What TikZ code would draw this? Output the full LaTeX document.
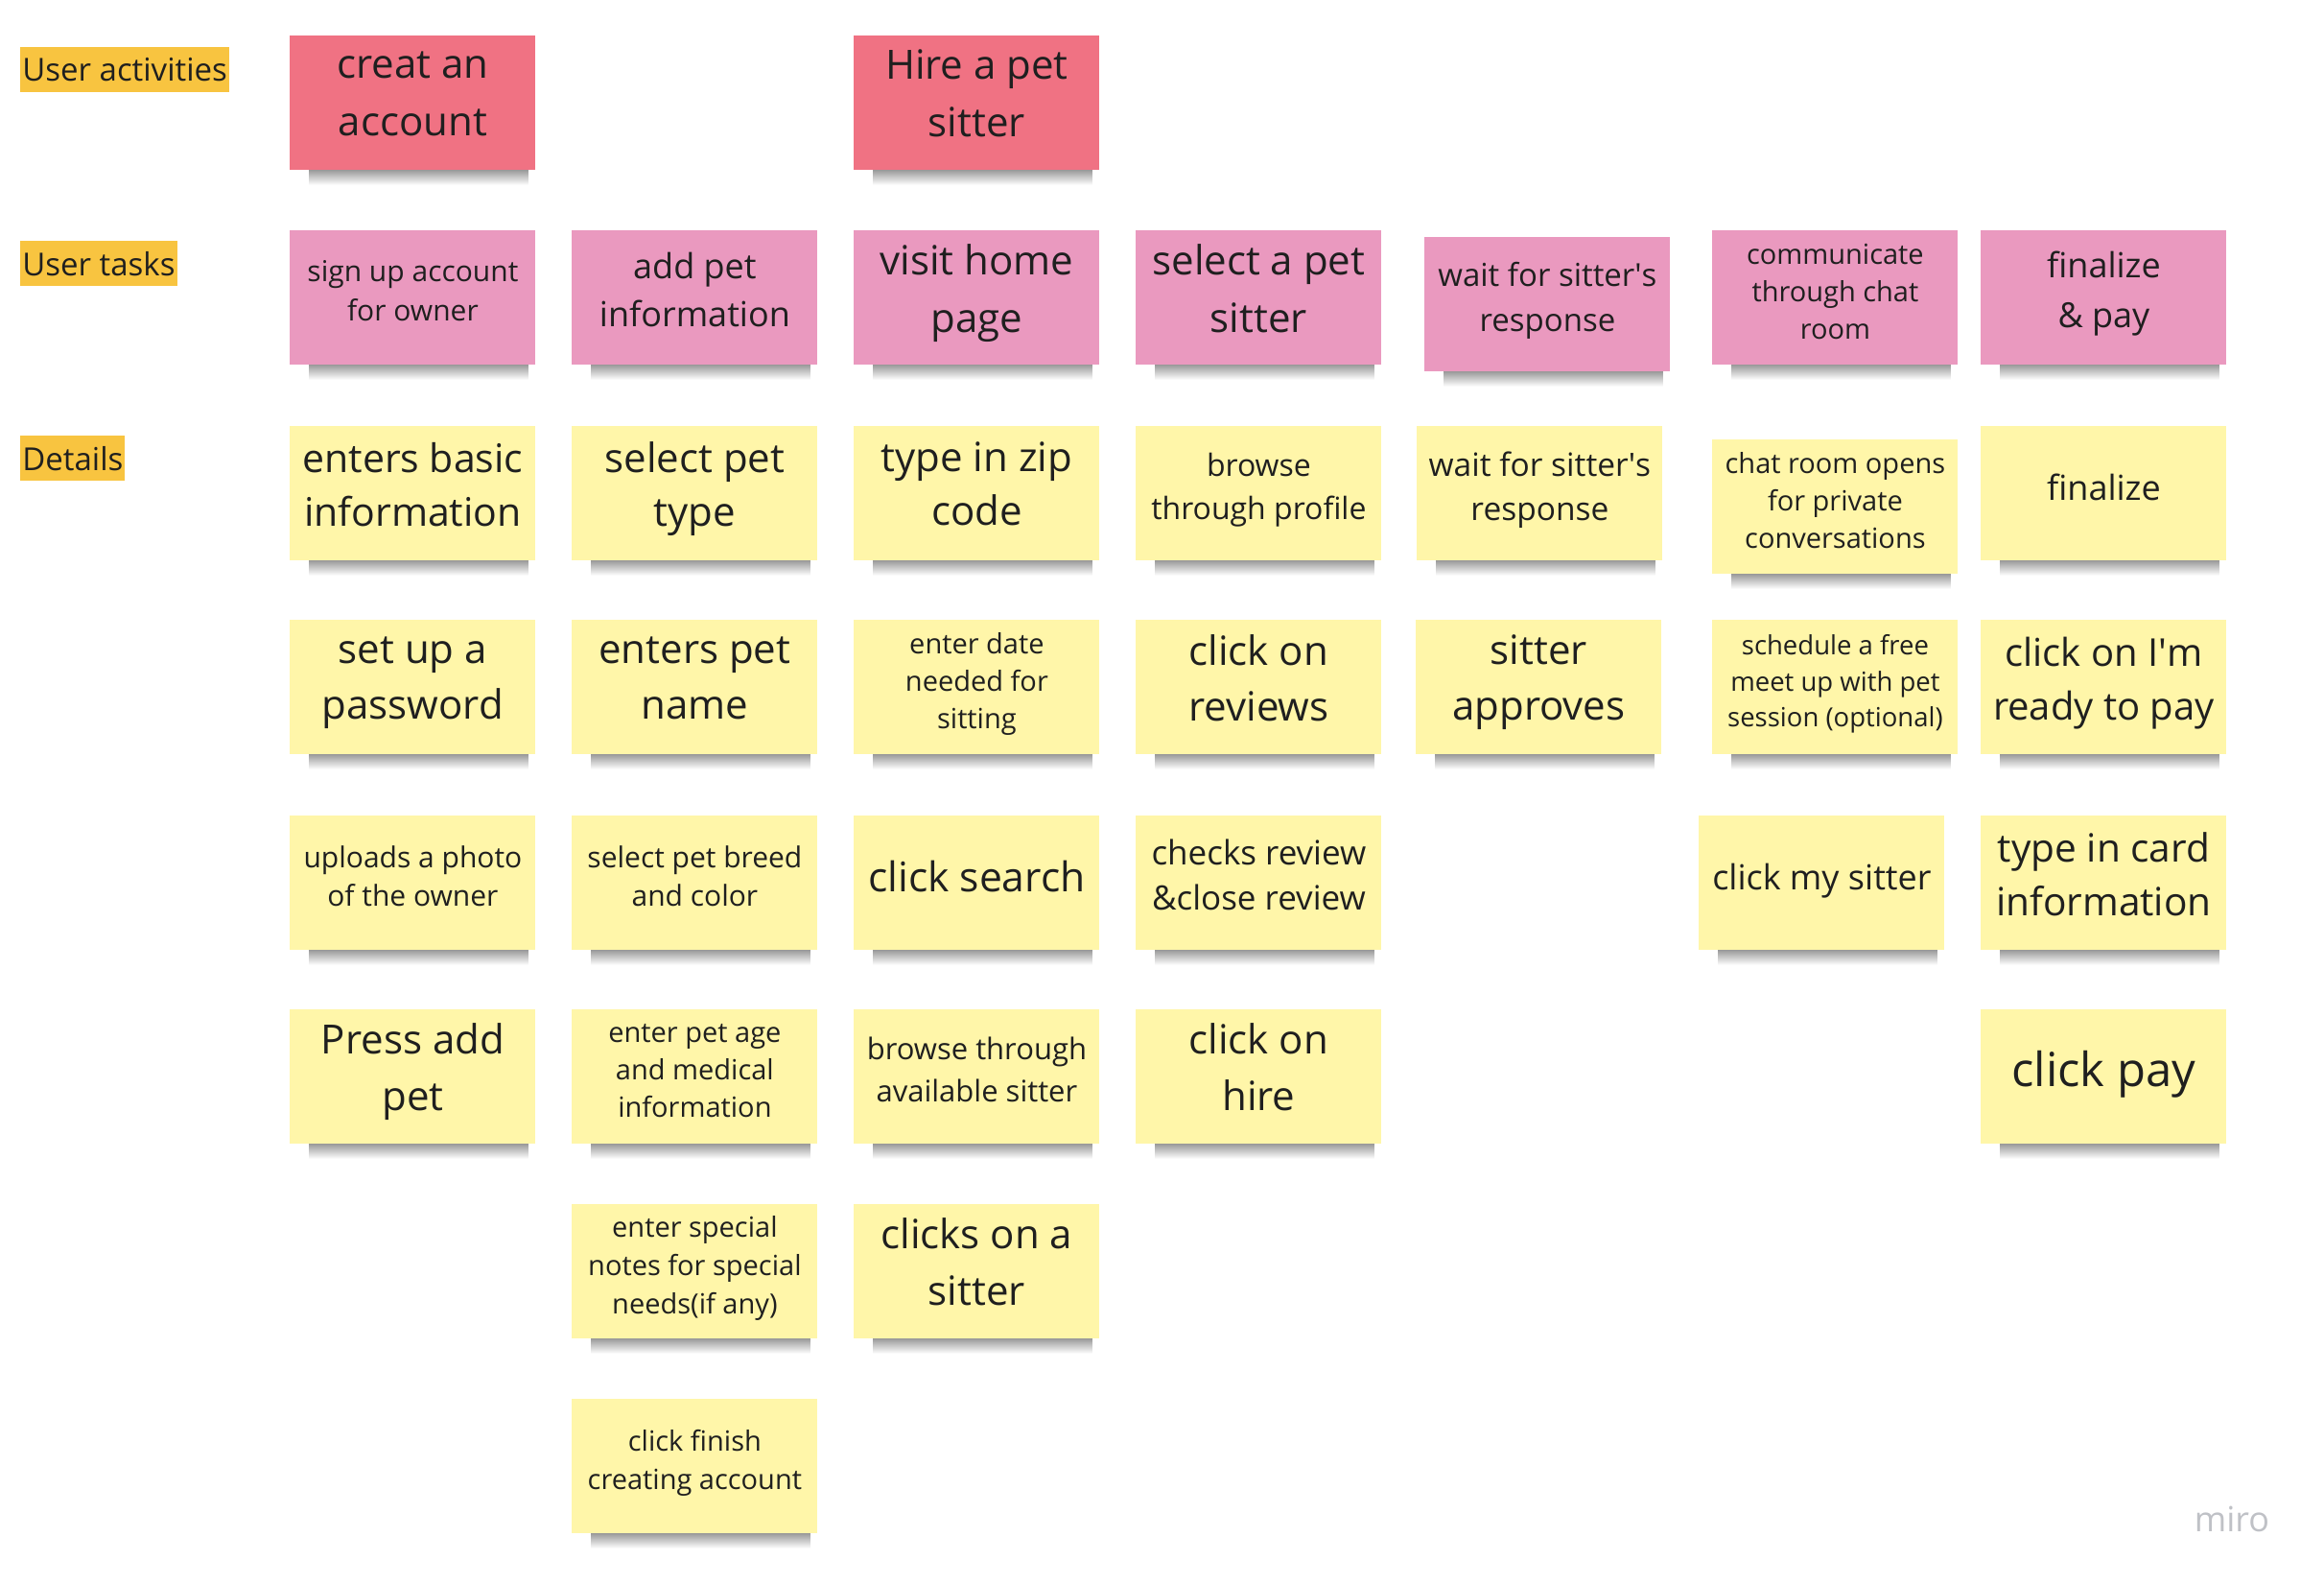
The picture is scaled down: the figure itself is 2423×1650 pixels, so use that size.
\documentclass[tikz,border=0pt]{standalone}
\usepackage{fontspec}
\setmainfont{Open Sans}
\usepackage{tikz}
\usetikzlibrary{calc}
\usepackage{xcolor}

\definecolor{actred}{HTML}{F07283}
\definecolor{taskpink}{HTML}{EA99BF}
\definecolor{noteyellow}{HTML}{FFF6A9}
\definecolor{lblorange}{HTML}{F8C440}
\definecolor{mirogrey}{HTML}{BFC1C6}

\tikzset{
  sticky/.style={anchor=north west, inner sep=2pt, minimum width=128pt, minimum height=70pt, align=center, text=black!88,
    execute at begin node={\vrule height .9em depth .48em width 0pt},
    execute at end node={\vrule height .9em depth .48em width 0pt}},
  activity/.style={sticky, fill=actred},
  usertask/.style={sticky, fill=taskpink},
  detail/.style={sticky, fill=noteyellow},
  fs/.style 2 args={font=\fontsize{#1}{#2}\selectfont},
  rowlabel/.style={anchor=north west, fill=lblorange, inner xsep=1pt, inner ysep=0pt, minimum height=23.5pt, text=black!88, fs={16.5}{20}},
  noteshadow/.style={top color=black!38, bottom color=white, draw=none}
}

\begin{document}
\begin{tikzpicture}[x=0.5pt,y=0.5pt,yscale=-1,xscale=1]
%set diagram left start at 0, and has height of 1650
\useasboundingbox (0,0) rectangle (2423,1650);

% Row labels
\node[rowlabel] (lblact) at (21,49) {User activities};
\node[rowlabel] (lbltask) at (21,251) {User tasks};
\node[rowlabel] (lbldet) at (21,454) {Details};

% Sticky Notes: user activities
\node[activity, fs={21}{30}] (creat) at (302,37) {creat an\\account};
\node[activity, fs={21}{30}] (hire) at (890,37) {Hire a pet\\sitter};

% Sticky Notes: user tasks
\node[usertask, fs={15}{20.5}] (signup) at (302,240) {sign up account\\for owner};
\node[usertask, fs={18}{25}] (addpet) at (596,240) {add pet\\information};
\node[usertask, fs={21}{30}] (visit) at (890,240) {visit home\\page};
\node[usertask, fs={21}{30}] (selsitter) at (1184,240) {select a pet\\sitter};
\node[usertask, fs={16.5}{23.5}] (waittask) at (1485,247) {wait for sitter\textquotesingle s\\response};
\node[usertask, fs={14.5}{19.5}] (chattask) at (1785,240) {communicate\\through chat\\room};
\node[usertask, fs={18}{26}] (paytask) at (2065,240) {finalize\\\& pay};

% Details: row 1
\node[detail, fs={20.5}{28}] (basic) at (302,444) {enters basic\\information};
\node[detail, fs={21}{28}] (pettype) at (596,444) {select pet\\type};
\node[detail, fs={21}{28}] (zip) at (890,444) {type in zip\\code};
\node[detail, fs={16}{22.5}] (profile) at (1184,444) {browse\\through profile};
\node[detail, fs={16.75}{23}] (waitdet) at (1477,444) {wait for sitter\textquotesingle s\\response};
\node[detail, fs={14.5}{19.5}] (chatopen) at (1785,458) {chat room opens\\for private\\conversations};
\node[detail, fs={18}{26}] (finalize) at (2065,444) {finalize};

% Details: row 2
\node[detail, fs={21}{29}] (password) at (302,646) {set up a\\password};
\node[detail, fs={21}{29}] (petname) at (596,646) {enters pet\\name};
\node[detail, fs={14.5}{19.5}] (date) at (890,646) {enter date\\needed for\\sitting};
\node[detail, fs={21}{29}] (reviews) at (1184,646) {click on\\reviews};
\node[detail, fs={21}{29}] (approves) at (1476,646) {sitter\\approves};
\node[detail, fs={13.75}{18.75}] (meetup) at (1785,646) {schedule a free\\meet up with pet\\session (optional)};
\node[detail, fs={20}{28}] (ready) at (2065,646) {click on I\textquotesingle m\\ready to pay};

% Details: row 3
\node[detail, fs={15}{20.3}] (photo) at (302,850) {uploads a photo\\of the owner};
\node[detail, fs={15}{20.3}] (breed) at (596,850) {select pet breed\\and color};
\node[detail, fs={21.3}{29}] (search) at (890,850) {click search};
\node[detail, fs={17.5}{23.5}] (checks) at (1184,850) {checks review\\\&close review};
\node[detail, fs={18}{25}] (mysitter) at (1771,850) {click my sitter};
\node[detail, fs={20.3}{28}] (card) at (2065,850) {type in card\\information};

% Details: row 4
\node[detail, fs={21}{29.5}] (addbtn) at (302,1052) {Press add\\pet};
\node[detail, fs={14.5}{19.5}] (age) at (596,1052) {enter pet age\\and medical\\information};
\node[detail, fs={15.5}{22}] (available) at (890,1052) {browse through\\available sitter};
\node[detail, fs={21}{29.5}] (hirebtn) at (1184,1052) {click on\\hire};
\node[detail, fs={24.5}{32}] (paybtn) at (2065,1052) {click pay};

% Details: row 5 and 6
\node[detail, fs={14.5}{20}] (special) at (596,1255) {enter special\\notes for special\\needs(if any)};
\node[detail, fs={21}{29.5}] (clicksitter) at (890,1255) {clicks on a\\sitter};
\node[detail, fs={14.5}{20}] (finish) at (596,1458) {click finish\\creating account};

% Shadows under the sticky notes
\foreach \n in {creat,hire,signup,addpet,visit,selsitter,waittask,chattask,paytask,basic,pettype,zip,profile,waitdet,chatopen,finalize,password,petname,date,reviews,approves,meetup,ready,photo,breed,search,checks,mysitter,card,addbtn,age,available,hirebtn,paybtn,special,clicksitter,finish}
  \shade[noteshadow] ($(\n.south west)+(20,0)$) rectangle ($(\n.south east)+(-8,15)$);

% Text Node
\node[anchor=base, text=mirogrey, fs={18}{20}] (miro) at (2327,1596) {miro};

\end{tikzpicture}
\end{document}
